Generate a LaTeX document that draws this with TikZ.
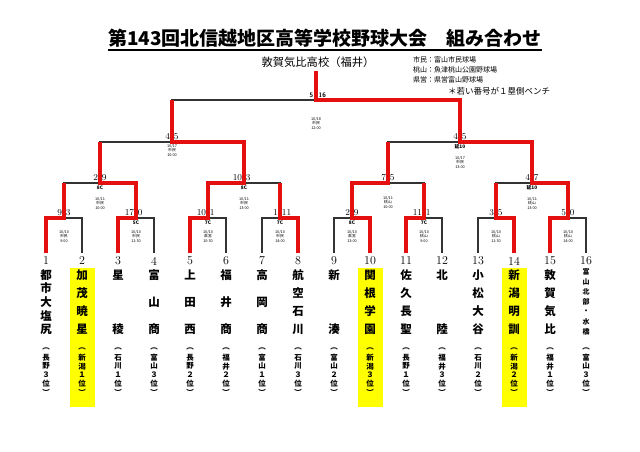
\documentclass[tikz,border=0pt]{standalone}
\usepackage{fontspec}
\newfontfamily\jp{Noto Sans CJK JP}
\usetikzlibrary{calc}
\definecolor{winred}{RGB}{228,16,16}
\definecolor{hl}{RGB}{255,255,0}
\tikzset{
  base/.style={draw=black!80,line width=1.3pt},
  win/.style={draw=winred,line width=3.2pt,line join=miter},
  scorefont/.style={font=\fontsize{9}{9}\selectfont,inner sep=0pt},
  finalscore/.style={font=\sffamily\bfseries\fontsize{6.5}{6.5}\selectfont,inner sep=0pt},
  numlab/.style={font=\fontsize{12}{12}\selectfont,inner sep=0pt},
  namech/.style={font=\jp\bfseries\fontsize{11.5}{11.5}\selectfont,inner sep=0pt},
  smallch/.style={font=\jp\bfseries\fontsize{7}{7}\selectfont,inner sep=0pt},
  prefch/.style={font=\jp\bfseries\fontsize{7.5}{7.5}\selectfont,inner sep=0pt},
  infotext/.style={font=\jp\fontsize{3.8}{4.6}\selectfont,align=center,inner sep=0pt,anchor=north},
  note/.style={font=\jp\bfseries\fontsize{4.8}{4.8}\selectfont,inner sep=0pt,anchor=north},
  hlbox/.style={fill=hl,draw=none},
}
\newcommand\scorelab[3]{%
  \node[scorefont,anchor=base east] (s#1l) at ($(#1)+(-1.7,-2.5)$) {#2};
  \node[scorefont,anchor=base west] (s#1r) at ($(#1)+(1.7,-2.5)$) {#3};}
\newcommand\infolab[5]{%
  \node[infotext] (i#1) at ($(#1)+(0,#2)$) {#3\\#4\\#5};}
\newcommand\notelab[2]{%
  \node[note] (n#1) at ($(#1)+(0,2.6)$) {#2};}
\newcommand\teamcol[4]{%
  \node[numlab] (num#1) at ($(L#1)+(0,8)$) {#1};
  \foreach \c [count=\j] in {#3} {\node[namech] (nm#1-\j) at ($(L#1)+(0,{22+(\j-1)*54/(#2-1)})$) {\c};}
  \foreach \c [count=\j] in {︵,#4,︶} {\node[prefch] (pf#1-\j) at ($(L#1)+(0,{96+(\j-1)*8.6})$) {\c};}
}
\begin{document}
\begin{tikzpicture}[x=1pt,y=-1pt]
\useasboundingbox[fill=white] (0,0) rectangle (640,452);
% coordinates
\foreach \i in {1,...,16} \coordinate (L\i) at ({46+36*(\i-1)},253);
\foreach \k in {1,...,8} \coordinate (A\k) at ({64+72*(\k-1)},218);
\foreach \k in {1,...,4} \coordinate (B\k) at ({100+144*(\k-1)},183);
\coordinate (C1) at (172,142);
\coordinate (C2) at (460,142);
\coordinate (F) at (316,100);
\coordinate (Top) at (316,71);
% highlight boxes
\fill[hlbox] ($(L2)+(-12.5,15)$) rectangle ($(L2)+(12.5,154)$);
\fill[hlbox] ($(L10)+(-12.5,15)$) rectangle ($(L10)+(12.5,154)$);
\fill[hlbox] ($(L14)+(-12.5,15)$) rectangle ($(L14)+(12.5,154)$);
% title
\node[font=\jp\bfseries\fontsize{19}{19}\selectfont,inner sep=0pt] (title) at (325,38) {第143回北信越地区高等学校野球大会　組み合わせ};
\draw[line width=1.4pt] ($(title.south west)+(0,2.5)$) -- ($(title.south east)+(0,2.5)$);
\node[font=\jp\fontsize{11.3}{11.3}\selectfont,inner sep=0pt] (champ) at (318,62) {敦賀気比高校（福井）};
\node[font=\jp\fontsize{7}{10}\selectfont,align=left,anchor=north west,inner sep=0pt] (legend) at (413,56) {市民：富山市民球場\\桃山：魚津桃山公園野球場\\県営：県営富山野球場};
\node[font=\jp\fontsize{8.5}{8.5}\selectfont,anchor=north west,inner sep=0pt] (bench) at (448,87) {＊若い番号が１塁側ベンチ};
% base bracket
\foreach \k in {1,...,8} {
  \pgfmathtruncatemacro\a{2*\k-1}\pgfmathtruncatemacro\b{2*\k}
  \draw[base] (L\a) |- (A\k) -| (L\b);
}
\draw[base] (A1) |- (B1) -| (A2);
\draw[base] (A3) |- (B2) -| (A4);
\draw[base] (A5) |- (B3) -| (A6);
\draw[base] (A7) |- (B4) -| (A8);
\draw[base] (B1) |- (C1) -| (B2);
\draw[base] (B3) |- (C2) -| (B4);
\draw[base] (C1) |- (F) -| (C2);
\draw[base] (F) -- (Top);
% winners
\draw[win] (L1) |- (A1) -- (A1 |- B1);
\draw[win] (L3) |- (A2) |- (B1) -- (B1 |- C1);
\draw[win] (L5) |- (A3) |- (B2) |- (C1) -- (C1 |- F);
\draw[win] (L8) |- (A4) -- (A4 |- B2);
\draw[win] (L10) |- (A5) |- (B3) -- (B3 |- C2);
\draw[win] (L11) |- (A6) -- (A6 |- B3);
\draw[win] (L14) |- (A7) -- (A7 |- B4);
\draw[win] (L15) |- (A8) |- (B4) |- (C2) |- (F) -- (Top);
% scores
\scorelab{A1}{9}{3}\scorelab{A2}{17}{0}\scorelab{A3}{10}{1}\scorelab{A4}{1}{11}
\scorelab{A5}{2}{9}\scorelab{A6}{11}{1}\scorelab{A7}{3}{5}\scorelab{A8}{5}{0}
\scorelab{B1}{2}{9}\scorelab{B2}{10}{3}\scorelab{B3}{7}{5}\scorelab{B4}{4}{7}
\scorelab{C1}{4}{5}\scorelab{C2}{4}{5}
\node[finalscore,anchor=base east] (sFl) at ($(F)+(-2.5,-3)$) {5};
\node[finalscore,anchor=base west] (sFr) at ($(F)+(2.5,-3)$) {16};
% notes
\notelab{A2}{5C}\notelab{A3}{7C}\notelab{A4}{7C}\notelab{A5}{8C}\notelab{A6}{7C}
\notelab{B1}{8C}\notelab{B2}{8C}\notelab{B4}{延10}\notelab{C2}{延10}
% match info
\infolab{A1}{12}{10/10}{市民}{9:00}
\infolab{A2}{12}{10/10}{市民}{11:30}
\infolab{A3}{12}{10/10}{県営}{10:30}
\infolab{A4}{12}{10/10}{市民}{14:00}
\infolab{A5}{12}{10/10}{県営}{13:00}
\infolab{A6}{12}{10/10}{桃山}{9:00}
\infolab{A7}{12}{10/10}{桃山}{11:30}
\infolab{A8}{12}{10/10}{桃山}{14:00}
\infolab{B1}{14}{10/11}{市民}{10:00}
\infolab{B2}{14}{10/11}{市民}{13:00}
\infolab{B3}{13}{10/11}{桃山}{10:00}
\infolab{B4}{14}{10/11}{桃山}{13:00}
\infolab{C1}{2}{10/17}{市民}{10:00}
\infolab{C2}{14}{10/17}{市民}{13:00}
\infolab{F}{17}{10/18}{市民}{12:00}
% teams
\teamcol{1}{5}{都,市,大,塩,尻}{長,野,３,位}
\teamcol{2}{4}{加,茂,暁,星}{新,潟,１,位}
\teamcol{3}{2}{星,稜}{石,川,１,位}
\teamcol{4}{3}{富,山,商}{富,山,３,位}
\teamcol{5}{3}{上,田,西}{長,野,２,位}
\teamcol{6}{3}{福,井,商}{福,井,２,位}
\teamcol{7}{3}{高,岡,商}{富,山,１,位}
\teamcol{8}{4}{航,空,石,川}{石,川,３,位}
\teamcol{9}{2}{新,湊}{富,山,２,位}
\teamcol{10}{4}{関,根,学,園}{新,潟,３,位}
\teamcol{11}{4}{佐,久,長,聖}{長,野,１,位}
\teamcol{12}{2}{北,陸}{福,井,３,位}
\teamcol{13}{4}{小,松,大,谷}{石,川,２,位}
\teamcol{14}{4}{新,潟,明,訓}{新,潟,２,位}
\teamcol{15}{4}{敦,賀,気,比}{福,井,１,位}
\node[numlab] (num16) at ($(L16)+(0,8)$) {16};
\foreach \c [count=\j] in {富,山,北,部,・,水,橋} {\node[smallch] (nm16-\j) at ($(L16)+(0,{19+(\j-1)*10})$) {\c};}
\foreach \c [count=\j] in {︵,富,山,３,位,︶} {\node[prefch] (pf16-\j) at ($(L16)+(0,{96+(\j-1)*8.6})$) {\c};}
\end{tikzpicture}
\end{document}
